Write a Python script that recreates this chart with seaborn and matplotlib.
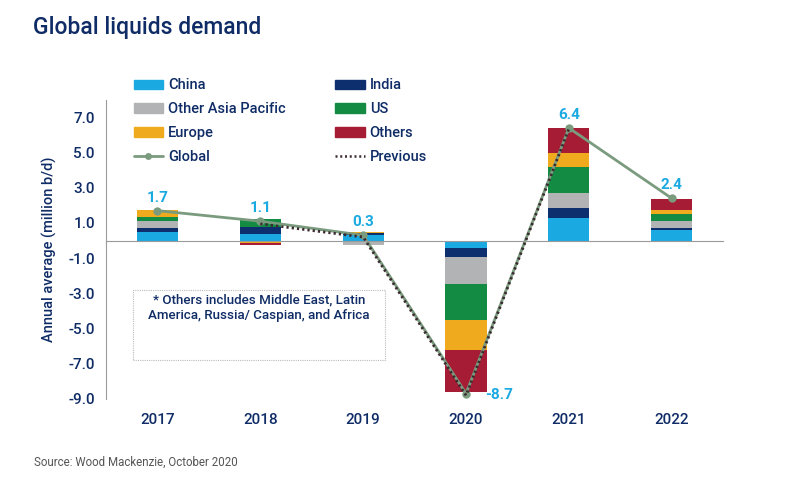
import numpy as np
import pandas as pd
import seaborn as sns
import matplotlib.pyplot as plt
from matplotlib.patches import Patch, Rectangle
from matplotlib.lines import Line2D

# ---------------- data ----------------
years = ['2017', '2018', '2019', '2020', '2021', '2022']
china = [0.50, 0.38, 0.30, -0.41, 1.27, 0.58]
india = [0.19, 0.38, 0.12, -0.50, 0.56, 0.15]
other_asia = [0.41, 0.00, -0.25, -1.58, 0.88, 0.41]
us = [0.24, 0.47, 0.00, -2.05, 1.49, 0.35]
europe = [0.37, -0.15, 0.05, -1.69, 0.75, 0.22]
others = [0.00, -0.10, 0.00, -2.40, 1.45, 0.65]
global_total = [1.7, 1.1, 0.3, -8.7, 6.4, 2.4]
previous = [np.nan, 0.95, 0.2, -8.8, 6.35, np.nan]

series_names = ['China', 'India', 'Other Asia Pacific', 'US', 'Europe', 'Others']
series_values = [china, india, other_asia, us, europe, others]
series_colors = ['#1BA9E1', '#0E2F6E', '#B2B3B5', '#138B43', '#EFAA1D', '#A61C35']

NAVY = '#0F2C66'
LABEL_BLUE = '#1BA9E1'
GLOBAL_COLOR = '#7B9B7F'
PREV_COLOR = '#3B2A30'
AXIS_GRAY = '#9A9A9A'

sns.set_style('white')
plt.rcParams['font.family'] = ['Roboto', 'DejaVu Sans']

fig = plt.figure(figsize=(8, 4.8), dpi=100)
ax = fig.add_axes([0.1325, 0.169, 0.904 - 0.1325, 0.792 - 0.169])

# stacked bars: positives stack up, negatives stack down
pos_base = np.zeros(len(years))
neg_base = np.zeros(len(years))
for name, vals, col in zip(series_names, series_values, series_colors):
    vals = np.array(vals)
    bottom = np.where(vals >= 0, pos_base, neg_base)
    df = pd.DataFrame({'year': years, 'value': vals})
    sns.barplot(data=df, x='year', y='value', color=col, width=0.4,
                bottom=bottom, saturation=1, ax=ax, linewidth=0)
    pos_base = pos_base + np.where(vals > 0, vals, 0)
    neg_base = neg_base + np.where(vals < 0, vals, 0)

pos = np.arange(len(years))
sns.lineplot(x=pos, y=global_total, color=GLOBAL_COLOR, linewidth=2,
             marker='o', markersize=6, markeredgewidth=0, ax=ax, sort=False)
sns.lineplot(x=pos, y=previous, color=PREV_COLOR, linestyle=(0, (0.8, 1.1)),
             linewidth=2, ax=ax, sort=False)

# value labels (baseline offsets in pixels)
label_offsets = [(0, 9), (0, 9), (0, 9), (33, -5), (0, 9), (0, 9)]
for x, v, off in zip(pos, global_total, label_offsets):
    ax.annotate(f'{v:.1f}', (x, v), xytext=off, textcoords='offset pixels',
                ha='center', va='baseline', color=LABEL_BLUE, fontsize=11,
                fontweight='bold')

# axes styling
ax.set_xlim(-0.5, len(years) - 0.5)
ax.set_ylim(-9, 8)
ax.set_yticks(np.arange(-9, 8, 2))
ax.set_yticklabels([f'{t:.1f}' for t in np.arange(-9, 8, 2)])
ax.set_xlabel('')
ax.set_ylabel('Annual average (million b/d)', color=NAVY, fontsize=10.5,
              fontweight='medium', labelpad=8)
for s in ['top', 'right']:
    ax.spines[s].set_visible(False)
ax.spines['left'].set_color(AXIS_GRAY)
ax.spines['bottom'].set_color(AXIS_GRAY)
ax.spines['bottom'].set_position(('data', 0))
ax.tick_params(axis='y', length=4, color=AXIS_GRAY, labelcolor=NAVY,
               labelsize=11, pad=4)
ax.set_xticks(np.arange(0.5, len(years) - 1, 1), minor=True)
ax.tick_params(axis='x', which='major', length=0, labelbottom=False)
ax.tick_params(axis='x', which='minor', length=4, color=AXIS_GRAY)
for lab in ax.get_yticklabels():
    lab.set_fontweight('medium')

sec = ax.secondary_xaxis('bottom')
sec.set_xticks(pos, labels=years)
sec.spines['bottom'].set_visible(False)
sec.tick_params(length=0, pad=10, labelcolor=NAVY, labelsize=11)
for lab in sec.get_xticklabels():
    lab.set_fontweight('medium')

# legend (row-major order in a 2 column layout)
patches = [Patch(color=c, label=n) for n, c in zip(series_names, series_colors)]
glob_h = Line2D([], [], color=GLOBAL_COLOR, lw=2, marker='o', markersize=5,
                markeredgewidth=0, label='Global')
prev_h = Line2D([], [], color=PREV_COLOR, lw=1.8, linestyle=(0, (0.8, 1.1)),
                label='Previous')
handles = [patches[0], patches[2], patches[4], glob_h,
           patches[1], patches[3], patches[5], prev_h]
leg = ax.legend(handles=handles, ncol=2, loc='upper left',
                bbox_to_anchor=(0.045, 1.072), frameon=False, fontsize=10.5,
                handlelength=2.0, handleheight=0.6, handletextpad=0.35,
                columnspacing=3.4, labelspacing=0.68, borderaxespad=0,
                borderpad=0)
for t in leg.get_texts():
    t.set_color(NAVY)
    t.set_fontweight('medium')

# note box
ax.add_patch(Rectangle((0.044, 0.13), 0.408, 0.235, transform=ax.transAxes,
                       fill=False, edgecolor='#BBBBBB', linestyle=(0, (1, 1)),
                       linewidth=0.8))
ax.text(0.248, 0.305, '* Others includes Middle East, Latin\nAmerica, Russia/ Caspian, and Africa',
        transform=ax.transAxes, ha='center', va='center', color=NAVY,
        fontsize=9.6, fontweight='medium', linespacing=1.25)

fig.text(0.041, 0.942, 'Global liquids demand', color=NAVY, fontsize=16.5,
         fontweight='medium', va='center', ha='left')
fig.text(0.043, 0.037, 'Source: Wood Mackenzie, October 2020', color='#555555',
         fontsize=8.3, va='center', ha='left')

fig.savefig('out.png', dpi=100)
